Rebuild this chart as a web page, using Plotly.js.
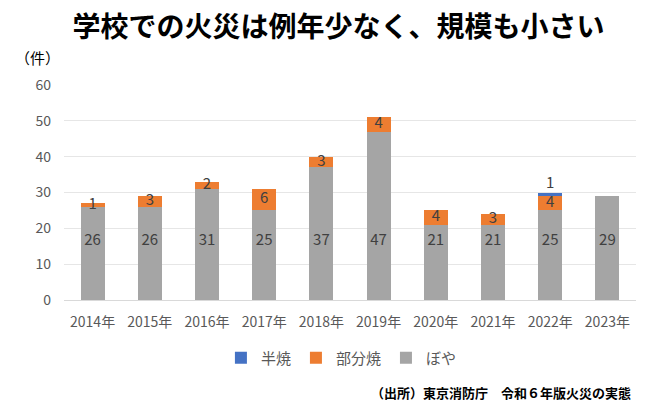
<!DOCTYPE html>
<html>
<head>
<meta charset="utf-8">
<script src="https://cdn.plot.ly/plotly-3.0.1.min.js"></script>
<style>
  html, body { margin: 0; padding: 0; background: #fff; }
  #chart { width: 650px; height: 414px; }
</style>
</head>
<body>
<div id="chart"></div>
<script>
var years = ['2014年', '2015年', '2016年', '2017年', '2018年', '2019年', '2020年', '2021年', '2022年', '2023年'];
var boya = [26, 26, 31, 25, 37, 47, 21, 21, 25, 29];      // ぼや
var bubun = [1, 3, 2, 6, 3, 4, 4, 3, 4, 0];               // 部分焼
var hanshou = [0, 0, 0, 0, 0, 0, 0, 0, 1, 0];             // 半焼

var FONT = '"Noto Sans CJK JP", "Noto Sans", sans-serif';
var grayLabelLevel = 16.5;   // Excel puts the ぼや labels at one height
var topLabelGap = 2.3;       // 半焼 label sits above the stack

function hideZero(arr) {
  return arr.map(function (v) { return v > 0 ? String(v) : ''; });
}

var barBoya = {
  type: 'bar', name: 'ぼや', x: years, y: boya,
  marker: { color: '#A5A5A5' }, hoverinfo: 'x+y+name'
};
var barBubun = {
  type: 'bar', name: '部分焼', x: years, y: bubun,
  marker: { color: '#ED7D31' }, hoverinfo: 'x+y+name'
};
var barHan = {
  type: 'bar', name: '半焼', x: years, y: hanshou,
  marker: { color: '#4472C4' }, hoverinfo: 'x+y+name'
};

// data labels
var lblBoya = {
  type: 'scatter', mode: 'text', x: years,
  y: boya.map(function () { return grayLabelLevel; }),
  text: boya.map(String), textposition: 'middle center',
  textfont: { family: FONT, size: 15, color: '#404040' },
  showlegend: false, hoverinfo: 'skip'
};
var lblBubun = {
  type: 'scatter', mode: 'text', x: years,
  y: boya.map(function (v, i) { return v + bubun[i] / 2; }),
  text: hideZero(bubun), textposition: 'middle center',
  textfont: { family: FONT, size: 15, color: '#404040' },
  showlegend: false, hoverinfo: 'skip'
};
var lblHan = {
  type: 'scatter', mode: 'text', x: years,
  y: boya.map(function (v, i) { return v + bubun[i] + hanshou[i] + topLabelGap; }),
  text: hideZero(hanshou), textposition: 'middle center',
  textfont: { family: FONT, size: 15, color: '#404040' },
  showlegend: false, hoverinfo: 'skip'
};

var data = [barBoya, barBubun, barHan, lblBoya, lblBubun, lblHan];

var layout = {
  width: 650,
  height: 414,
  margin: { l: 64, r: 14, t: 85, b: 114 },
  paper_bgcolor: '#ffffff',
  plot_bgcolor: '#ffffff',
  font: { family: FONT, color: '#595959' },
  barmode: 'stack',
  bargap: 0.58,
  title: {
    text: '<b>学校での火災は例年少なく、規模も小さい</b>',
    font: { family: FONT, size: 28, color: '#000000' },
    x: 0.48, xref: 'paper', xanchor: 'center',
    y: 0.935, yref: 'container', yanchor: 'middle'
  },
  xaxis: {
    type: 'category',
    tickfont: { family: FONT, size: 14, color: '#595959' },
    showgrid: false,
    showline: false,
    ticks: '',
    ticklabelstandoff: 12
  },
  yaxis: {
    range: [0, 60],
    dtick: 10,
    tickfont: { family: FONT, size: 14, color: '#595959' },
    gridcolor: '#E6E6E6',
    gridwidth: 1,
    zeroline: true,
    zerolinecolor: '#D9D9D9',
    zerolinewidth: 1,
    ticks: '',
    ticklen: 0,
    ticklabelstandoff: 12
  },
  legend: {
    orientation: 'h',
    traceorder: 'reversed',
    x: 0.485, xanchor: 'center',
    y: -0.27, yanchor: 'middle',
    font: { family: FONT, size: 15, color: '#595959' },
    itemwidth: 30,
    bgcolor: 'rgba(0,0,0,0)'
  },
  annotations: [
    {
      text: '（件）',
      xref: 'paper', yref: 'paper',
      x: -0.046, y: 1.126, xanchor: 'center', yanchor: 'middle',
      showarrow: false,
      font: { family: FONT, size: 15, color: '#000000' }
    },
    {
      text: '<b>（出所）東京消防庁　令和６年版火災の実態</b>',
      xref: 'paper', yref: 'paper',
      x: 0.995, y: -0.43, xanchor: 'right', yanchor: 'middle',
      showarrow: false,
      font: { family: FONT, size: 13, color: '#000000' }
    }
  ],
  showlegend: true
};

Plotly.newPlot('chart', data, layout, { displayModeBar: false, staticPlot: true });
</script>
</body>
</html>
